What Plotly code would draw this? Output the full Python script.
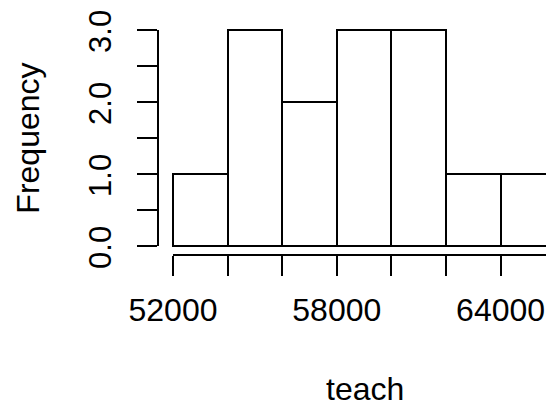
import plotly.graph_objects as go

# histogram of teacher salaries
bin_edges = [52000, 54000, 56000, 58000, 60000, 62000, 64000, 66000]
counts = [1, 3, 2, 3, 3, 1, 1]

x_tickvals = bin_edges
x_ticktext = ["52000", "", "", "58000", "", "", "64000", ""]
y_tickvals = [0, 0.5, 1, 1.5, 2, 2.5, 3]
y_ticktext = ["0.0", "", "1.0", "", "2.0", "", "3.0"]

centers = [(a + b) / 2 for a, b in zip(bin_edges[:-1], bin_edges[1:])]
widths = [b - a for a, b in zip(bin_edges[:-1], bin_edges[1:])]

fig = go.Figure()
fig.add_trace(go.Bar(
    x=centers,
    y=counts,
    width=widths,
    marker=dict(color="white", line=dict(color="black", width=2)),
    showlegend=False,
))

font = dict(family="Liberation Sans, Arial, sans-serif", size=32, color="black")

# page body has an 8px margin, so the figure is a bit smaller than the window
fig.update_layout(
    width=546,
    height=398,
    margin=dict(l=150, r=0, t=0, b=151, autoexpand=False),
    paper_bgcolor="white",
    plot_bgcolor="white",
    font=font,
    bargap=0,
    xaxis=dict(
        range=[51451, 65956],
        tickvals=x_tickvals,
        ticktext=x_ticktext,
        ticks="outside",
        ticklen=20,
        tickwidth=2,
        tickcolor="black",
        showgrid=False,
        zeroline=False,
        showline=False,
        automargin=False,
        ticklabelstandoff=7,
        ticklabeloverflow="allow",
    ),
    yaxis=dict(
        range=[-0.125, 3.306],
        tickvals=y_tickvals,
        ticktext=y_ticktext,
        ticks="outside",
        ticklen=20,
        tickwidth=2,
        tickcolor="black",
        tickangle=-90,
        tickfont=dict(size=31),
        showgrid=False,
        zeroline=False,
        showline=False,
        automargin=False,
        ticklabelstandoff=14,
        ticklabelshift=6,
        ticklabeloverflow="allow",
    ),
    shapes=[
        # R-style detached axis lines
        dict(type="line", xref="paper", yref="y", x0=0, x1=0,
             y0=y_tickvals[0], y1=y_tickvals[-1], line=dict(color="black", width=2)),
        dict(type="line", xref="x", yref="paper", x0=bin_edges[0], x1=bin_edges[-1],
             y0=0, y1=0, line=dict(color="black", width=2)),
    ],
    annotations=[
        dict(text="teach", xref="paper", yref="paper", x=0.523, y=-0.543,
             xanchor="center", yanchor="middle", showarrow=False, font=font),
        dict(text="Frequency", xref="paper", yref="paper", x=-0.329, y=0.474,
             xanchor="center", yanchor="middle", textangle=-90, showarrow=False, font=font),
    ],
)

fig.write_html("out.html")
